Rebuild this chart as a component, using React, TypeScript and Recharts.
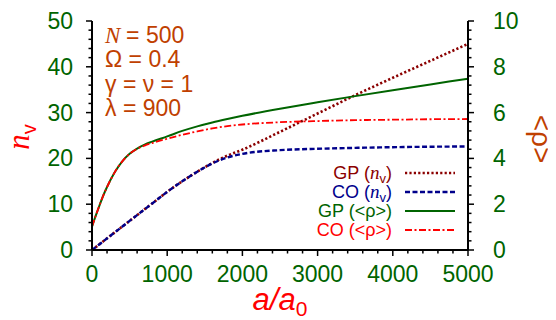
import { LineChart, Line, XAxis, YAxis, Legend } from "recharts";

// a/a0 sample points
const aValues = [0, 50, 100, 150, 200, 300, 400, 500, 600, 700, 800, 1000, 1200, 1400, 1600, 1800, 2000, 2500, 3000, 3500, 4000, 4500, 5000];
// n_v (left axis)
const gpNv = [0, 0.63, 1.27, 1.9, 2.54, 3.81, 5.08, 6.35, 7.62, 8.9, 10.15, 12.7, 15.0, 17.1, 19.0, 20.6, 21.9, 25.8, 29.8, 33.8, 37.6, 41.3, 45.0];
const coNv = [0, 0.63, 1.27, 1.9, 2.54, 3.81, 5.08, 6.35, 7.62, 8.9, 10.15, 12.7, 15.0, 17.1, 18.9, 20.2, 21.0, 21.8, 22.1, 22.3, 22.45, 22.55, 22.6];
// <rho> (right axis)
const gpRho = [1.02, 1.5, 1.95, 2.38, 2.75, 3.38, 3.86, 4.2, 4.43, 4.6, 4.73, 4.96, 5.2, 5.4, 5.57, 5.72, 5.86, 6.17, 6.45, 6.72, 6.98, 7.23, 7.48];
const coRho = [1.02, 1.5, 1.95, 2.38, 2.75, 3.38, 3.86, 4.2, 4.42, 4.56, 4.67, 4.86, 5.03, 5.18, 5.31, 5.41, 5.48, 5.58, 5.63, 5.67, 5.69, 5.71, 5.72];

const xTicks = [0, 200, 400, 600, 800, 1000, 1200, 1400, 1600, 1800, 2000, 2200, 2400, 2600, 2800, 3000, 3200, 3400, 3600, 3800, 4000, 4200, 4400, 4600, 4800, 5000];
const leftTicks = [0, 2, 4, 6, 8, 10, 12, 14, 16, 18, 20, 22, 24, 26, 28, 30, 32, 34, 36, 38, 40, 42, 44, 46, 48, 50];
const rightTicks = [0, 0.4, 0.8, 1.2, 1.6, 2, 2.4, 2.8, 3.2, 3.6, 4, 4.4, 4.8, 5.2, 5.6, 6, 6.4, 6.8, 7.2, 7.6, 8, 8.4, 8.8, 9.2, 9.6, 10];

const notes = ["= 500", "Ω = 0.4", "γ = ν = 1", "λ = 900"];

const GREEN = "#006400";
const BROWN = "#c04000";
const SANS = "'Liberation Sans', Arial, sans-serif";
const SERIF = "'Liberation Serif', 'Times New Roman', serif";

const data = aValues.map((a, i) => ({
    a,
    gpNv: gpNv[i],
    coNv: coNv[i],
    gpRho: gpRho[i],
    coRho: coRho[i],
}));

const series = [
    { key: "gpNv", name: "GP", sub: true, axis: "left", color: "#8b0000", dash: "2.2 2.2", width: 2.6 },
    { key: "coNv", name: "CO", sub: true, axis: "left", color: "#00008b", dash: "5 2.5", width: 2.4 },
    { key: "gpRho", name: "GP", sub: false, axis: "right", color: GREEN, dash: undefined, width: 2 },
    { key: "coRho", name: "CO", sub: false, axis: "right", color: "#ff0000", dash: "7 2.5 2 2.5", width: 1.8 },
];

const isMajor = (v: number, step: number) => Math.abs(v / step - Math.round(v / step)) < 1e-6;

const BottomTick = (props: any) => {
    const { x, y, payload } = props;
    const major = isMajor(payload.value, 1000);
    return (
        <g>
            <line x1={x} x2={x} y1={y} y2={y + (major ? 6 : 3.5)} stroke="#000" strokeWidth={1.5} />
            {major && (
                <text x={x} y={y + 32} textAnchor="middle" fill={GREEN} fontSize={23} fontFamily={SANS}>
                    {payload.value}
                </text>
            )}
        </g>
    );
};

const TopTick = (props: any) => {
    const { x, y, payload } = props;
    const major = isMajor(payload.value, 1000);
    return <line x1={x} x2={x} y1={y} y2={y - (major ? 6 : 3.5)} stroke="#000" strokeWidth={1.5} />;
};

const LeftTick = (props: any) => {
    const { x, y, payload } = props;
    const major = isMajor(payload.value, 10);
    return (
        <g>
            <line x1={x} x2={x - (major ? 6 : 3.5)} y1={y} y2={y} stroke="#000" strokeWidth={1.5} />
            {major && (
                <text x={x - 19} y={y + 8} textAnchor="end" fill={GREEN} fontSize={23} fontFamily={SANS}>
                    {payload.value}
                </text>
            )}
        </g>
    );
};

const RightTick = (props: any) => {
    const { x, y, payload } = props;
    const major = isMajor(payload.value, 2);
    return (
        <g>
            <line x1={x} x2={x + (major ? 6 : 3.5)} y1={y} y2={y} stroke="#000" strokeWidth={1.5} />
            {major && (
                <text x={x + 25} y={y + 8} textAnchor="start" fill={GREEN} fontSize={23} fontFamily={SANS}>
                    {Math.round(payload.value)}
                </text>
            )}
        </g>
    );
};

const LegendBox = () => (
    <svg width={200} height={90}>
        {series.map((s, i) => {
            const cy = 15 + i * 19;
            const label = s.sub ? (
                <text x={124} y={cy + 6} textAnchor="end" fill={s.color} fontSize={18} fontFamily={SANS}>
                    {s.name + " ("}
                    <tspan fontFamily={SERIF} fontStyle="italic" fontSize={19}>n</tspan>
                    <tspan fontSize={13} dy={4}>v</tspan>
                    <tspan dy={-4}>)</tspan>
                </text>
            ) : (
                <text x={124} y={cy + 6} textAnchor="end" fill={s.color} fontSize={18} fontFamily={SANS}>
                    {s.name + " (<ρ>)"}
                </text>
            );
            return (
                <g key={s.key}>
                    {label}
                    <line x1={137} x2={187} y1={cy} y2={cy} stroke={s.color} strokeWidth={s.width} strokeDasharray={s.dash} />
                </g>
            );
        })}
    </svg>
);

export default function App() {
    return (
        <div style={{ position: "relative", width: 548, height: 312 }}>
            <LineChart width={548} height={312} data={data} margin={{ top: 13, right: 0, bottom: 0, left: 0 }}>
                <XAxis
                    dataKey="a"
                    type="number"
                    domain={[0, 5000]}
                    ticks={xTicks}
                    interval={0}
                    height={70}
                    tickSize={0}
                    tickMargin={0}
                    tick={<BottomTick />}
                    axisLine={{ stroke: "#000", strokeWidth: 2 }}
                    label={{
                        content: (p: any) => {
                            const vb = p.viewBox;
                            return (
                                <text
                                    x={vb.x + vb.width / 2}
                                    y={vb.y + 60}
                                    textAnchor="middle"
                                    fill="#ff0000"
                                    fontSize={31}
                                    fontStyle="italic"
                                    fontFamily={SANS}
                                >
                                    a/a<tspan fontSize={21} dy={6} fontStyle="normal">0</tspan>
                                </text>
                            );
                        },
                    }}
                />
                <XAxis
                    xAxisId="top"
                    dataKey="a"
                    type="number"
                    orientation="top"
                    domain={[0, 5000]}
                    ticks={xTicks}
                    interval={0}
                    height={0}
                    tickSize={0}
                    tickMargin={0}
                    tick={<TopTick />}
                    axisLine={{ stroke: "#000", strokeWidth: 2 }}
                />
                <YAxis
                    yAxisId="left"
                    domain={[0, 50]}
                    ticks={leftTicks}
                    interval={0}
                    width={84}
                    tickSize={0}
                    tickMargin={0}
                    tick={<LeftTick />}
                    axisLine={{ stroke: "#000", strokeWidth: 2 }}
                    label={{
                        content: () => (
                            <text
                                x={21}
                                y={129}
                                transform="rotate(-90, 21, 129)"
                                textAnchor="middle"
                                fill="#ff0000"
                            >
                                <tspan fontFamily={SERIF} fontStyle="italic" fontSize={31}>n</tspan>
                                <tspan fontFamily={SANS} fontSize={20} dy={7}>v</tspan>
                            </text>
                        ),
                    }}
                />
                <YAxis
                    yAxisId="right"
                    orientation="right"
                    domain={[0, 10]}
                    ticks={rightTicks}
                    interval={0}
                    width={88}
                    tickSize={0}
                    tickMargin={0}
                    tick={<RightTick />}
                    axisLine={{ stroke: "#000", strokeWidth: 2 }}
                    label={{
                        content: () => (
                            <text
                                x={524}
                                y={131}
                                transform="rotate(90, 524, 131)"
                                textAnchor="middle"
                                fill={BROWN}
                                fontSize={28}
                                fontFamily={SANS}
                            >
                                {"<ρ>"}
                            </text>
                        ),
                    }}
                />
                <Legend
                    layout="horizontal"
                    verticalAlign="middle"
                    align="center"
                    wrapperStyle={{ position: "absolute", left: 260, top: 150, width: 200, height: 90 }}
                    content={() => <LegendBox />}
                />
                {series.map((s) => (
                    <Line
                        key={s.key}
                        yAxisId={s.axis}
                        dataKey={s.key}
                        type="monotone"
                        stroke={s.color}
                        strokeWidth={s.width}
                        strokeDasharray={s.dash}
                        dot={false}
                        isAnimationActive={false}
                    />
                ))}
            </LineChart>
            <svg width={548} height={312} style={{ position: "absolute", left: 0, top: 0, pointerEvents: "none" }}>
                {notes.map((t, i) => (
                    <text key={t} x={97} y={35 + i * 24.3} fill={BROWN} fontSize={23} fontFamily={SANS}>
                        {i === 0 && <tspan fontFamily={SERIF} fontStyle="italic">N </tspan>}
                        {t}
                    </text>
                ))}
            </svg>
        </div>
    );
}
